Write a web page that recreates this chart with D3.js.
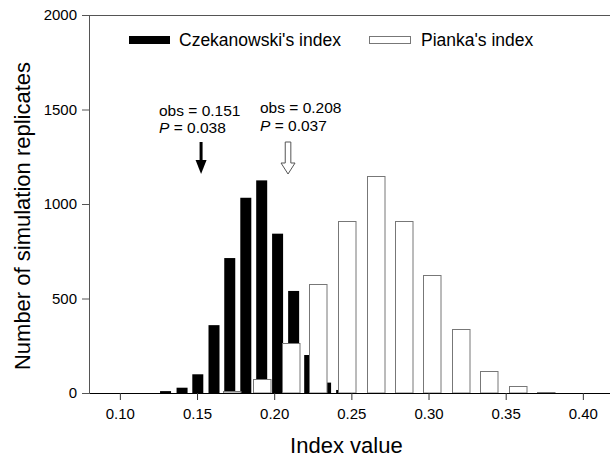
<!DOCTYPE html>
<html>
<head>
<meta charset="utf-8">
<script src="https://cdn.jsdelivr.net/npm/d3@7"></script>
<style>
  body { margin: 0; background: #fff; }
  svg { display: block; font-family: Arial, "Liberation Sans", sans-serif; }
</style>
</head>
<body>
<div id="chart"></div>
<script>
// bin centres (index value) and counts
const czekBins   = [0.1296, 0.1403, 0.1505, 0.1610, 0.1712, 0.1816, 0.1919, 0.2022, 0.2126, 0.2230, 0.2333, 0.2437];
const czekCounts = [10, 28, 99, 359, 714, 1033, 1125, 843, 540, 201, 55, 16];

const piankaBins   = [0.1727, 0.1920, 0.2105, 0.2284, 0.2470, 0.2657, 0.2838, 0.3022, 0.3210, 0.3392, 0.3575, 0.3759];
const piankaCounts = [10, 74, 263, 577, 909, 1150, 909, 624, 338, 118, 36, 5];

const xTicks = [0.10, 0.15, 0.20, 0.25, 0.30, 0.35, 0.40];
const yTicks = [0, 500, 1000, 1500, 2000];

const observed = [
    { name: "Czekanowski's index", obs: "0.151", p: "0.038", value: 0.151, fill: "#000" },
    { name: "Pianka's index", obs: "0.208", p: "0.037", value: 0.208, fill: "#fff" }
];

const W = 610, H = 461;
const plotLeft = 89, plotTop = 15, plotBottom = 393;

const x = d3.scaleLinear().domain([0.08, 0.42]).range([plotLeft, plotLeft + 0.34 * 1543.3]);
const y = d3.scaleLinear().domain([0, 2000]).range([plotBottom, plotTop]);

const svg = d3.select("#chart").append("svg")
    .attr("width", W).attr("height", H);

// --- bars ---
const czekW = 11, piankaW = 17.5;

svg.append("g").selectAll("rect")
    .data(czekBins.map((b, i) => ({ b, c: czekCounts[i] })))
    .join("rect")
    .attr("x", d => x(d.b) - czekW / 2)
    .attr("y", d => y(d.c))
    .attr("width", czekW)
    .attr("height", d => plotBottom - y(d.c))
    .attr("fill", "#000");

svg.append("g").selectAll("rect")
    .data(piankaBins.map((b, i) => ({ b, c: piankaCounts[i] })))
    .join("rect")
    .attr("x", d => Math.round(x(d.b) - piankaW / 2) + 0.5)
    .attr("y", d => Math.round(y(d.c)) + 0.5)
    .attr("width", piankaW)
    .attr("height", d => Math.max(0, plotBottom - Math.round(y(d.c)) - 0.5))
    .attr("fill", "#fff")
    .attr("stroke", "#777")
    .attr("stroke-width", 1);

// --- axes ---
const yAxis = svg.append("g")
    .attr("transform", `translate(${plotLeft},0)`)
    .call(d3.axisLeft(y).tickValues(yTicks).tickFormat(d3.format("d")).tickSize(7).tickPadding(5).tickSizeOuter(0));
yAxis.select(".domain").attr("stroke", "#555");
yAxis.selectAll(".tick line").attr("stroke", "#555");
yAxis.selectAll("text").attr("font-size", 15).attr("fill", "#000")
    .attr("font-family", "Arial, 'Liberation Sans', sans-serif");

const xAxis = svg.append("g")
    .attr("transform", `translate(0,${plotBottom})`)
    .call(d3.axisBottom(x).tickValues(xTicks).tickFormat(d3.format(".2f")).tickSize(7).tickPadding(8).tickSizeOuter(0));
xAxis.select(".domain").attr("stroke", "#000");
xAxis.selectAll(".tick line").attr("stroke", "#333");
xAxis.selectAll("text").attr("font-size", 15).attr("fill", "#000")
    .attr("font-family", "Arial, 'Liberation Sans', sans-serif");

// top frame line
svg.append("line")
    .attr("x1", plotLeft).attr("x2", W).attr("y1", plotTop + 0.5).attr("y2", plotTop + 0.5)
    .attr("stroke", "#555");

// axis titles
svg.append("text")
    .attr("x", x(0.25) - 5).attr("y", 453)
    .attr("text-anchor", "middle").attr("font-size", 22)
    .text("Index value");

svg.append("text")
    .attr("transform", `translate(30,${(plotTop + plotBottom) / 2 + 12}) rotate(-90)`)
    .attr("text-anchor", "middle").attr("font-size", 22)
    .text("Number of simulation replicates");

// --- legend ---
const legX = [129, 369];
const leg = svg.append("g").selectAll("g")
    .data(observed)
    .join("g")
    .attr("transform", (d, i) => `translate(${legX[i]},36)`);
leg.append("rect")
    .attr("x", 0.5).attr("y", 0.5)
    .attr("width", (d, i) => i === 0 ? 40 : 41).attr("height", 7)
    .attr("fill", d => d.fill)
    .attr("stroke", (d, i) => i === 0 ? "#000" : "#777");
leg.append("text")
    .attr("x", (d, i) => i === 0 ? 50 : 52).attr("y", 10)
    .attr("font-size", 17.5)
    .text(d => d.name);

// --- observed value annotations ---
const ann = svg.append("g").selectAll("g")
    .data(observed)
    .join("g");
const annX = [159, 260];
const annY = [115.5, 113];
ann.append("text")
    .attr("x", (d, i) => annX[i]).attr("y", (d, i) => annY[i])
    .attr("font-size", 15.5)
    .text(d => `obs = ${d.obs}`);
const pLine = ann.append("text")
    .attr("x", (d, i) => annX[i]).attr("y", (d, i) => annY[i] + 17.5)
    .attr("font-size", 15.5);
pLine.append("tspan").attr("font-style", "italic").text("P");
pLine.append("tspan").text(d => ` = ${d.p}`);

// arrows
const arrowTop = 142, arrowTip = 174;
// solid arrow (Czekanowski)
{
    const cx = x(observed[0].value) + 2.5;
    svg.append("line")
        .attr("x1", cx).attr("x2", cx).attr("y1", arrowTop).attr("y2", 163)
        .attr("stroke", "#000").attr("stroke-width", 3);
    svg.append("path")
        .attr("d", `M${cx - 5.5},160 L${cx + 5.5},160 L${cx},${arrowTip} Z`)
        .attr("fill", "#000");
}
// hollow arrow (Pianka)
{
    const cx = x(observed[1].value) + 1.5;
    const sw = 2.8, hw = 7, hy = 163;
    svg.append("path")
        .attr("d", `M${cx - sw},${arrowTop} L${cx + sw},${arrowTop} L${cx + sw},${hy} L${cx + hw},${hy} L${cx},${arrowTip} L${cx - hw},${hy} L${cx - sw},${hy} Z`)
        .attr("fill", "#fff").attr("stroke", "#555").attr("stroke-width", 1);
}
</script>
</body>
</html>
